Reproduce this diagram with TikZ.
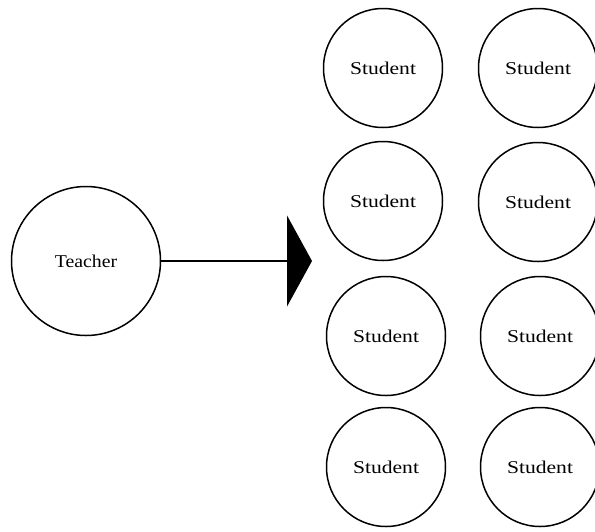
\documentclass[tikz,border=0pt]{standalone}
\usepackage{fontspec}
\setmainfont{Liberation Serif}
\usetikzlibrary{arrows.meta}
\newcommand{\pupiltext}{\scalebox{1.2}[1]{Student}}
\begin{document}
\begin{tikzpicture}[x=1pt,y=-1pt,
  person/.style={circle,draw,line width=1.5pt,inner sep=0pt,
    font=\fontsize{18}{18}\selectfont},
  pupil/.style={person,minimum size=119pt},
  link/.style={line width=1.3pt,-{Triangle[length=25pt,width=91pt]}}]
\useasboundingbox[fill=white] (0,0) rectangle (595,531);
\node[person,minimum size=149pt] (T) at (86,261) {\scalebox{1.1}[1]{Teacher}};
\node[pupil] (s11) at (383,68) {\pupiltext};
\node[pupil] (s12) at (538,68) {\pupiltext};
\node[pupil] (s21) at (383,201) {\pupiltext};
\node[pupil] (s22) at (538,202) {\pupiltext};
\node[pupil] (s31) at (386,336) {\pupiltext};
\node[pupil] (s32) at (540,336) {\pupiltext};
\node[pupil] (s41) at (386,467) {\pupiltext};
\node[pupil] (s42) at (540,467) {\pupiltext};
\coordinate (tip) at (312,261);
\draw[link] (T) -- (tip);
\end{tikzpicture}
\end{document}
